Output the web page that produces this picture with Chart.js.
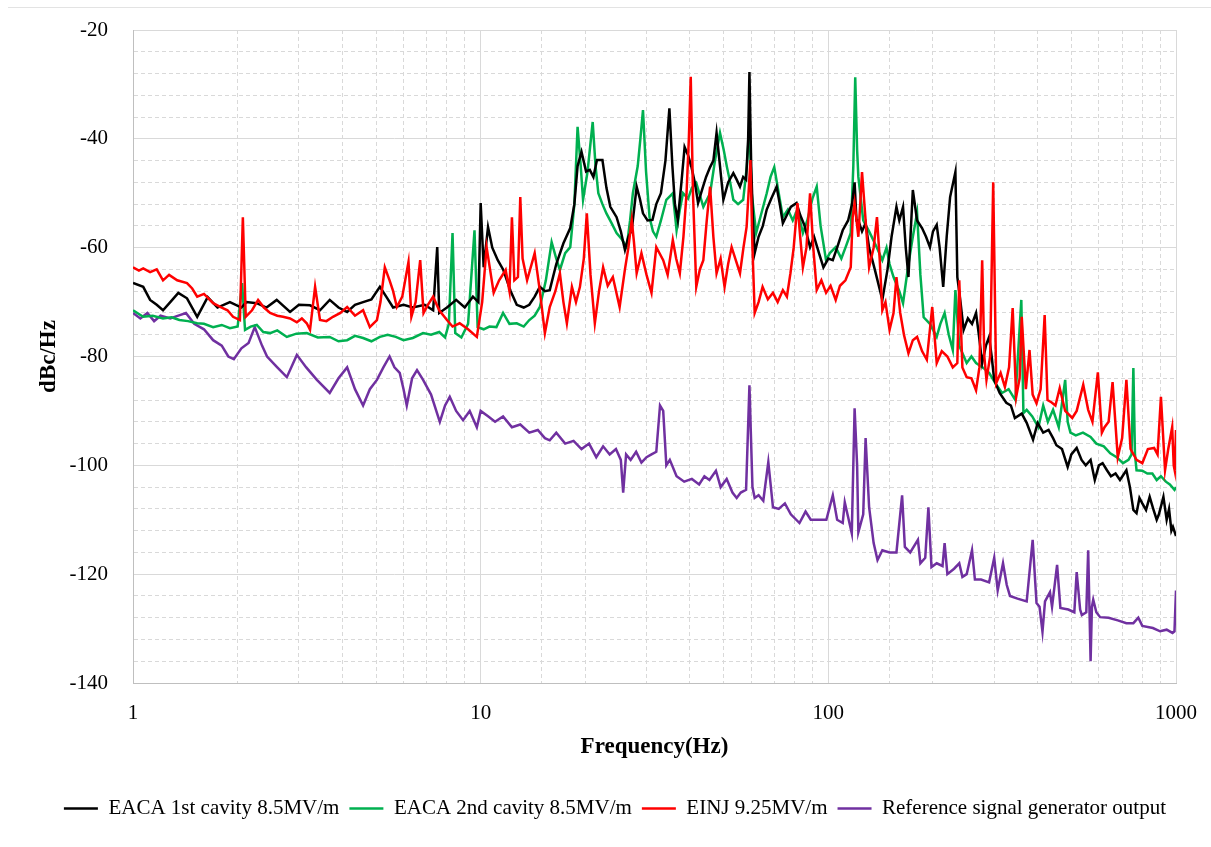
<!DOCTYPE html>
<html>
<head>
<meta charset="utf-8">
<title>Phase noise spectrum</title>
<script src="https://cdn.jsdelivr.net/npm/chart.js@4.4.1/dist/chart.umd.min.js"></script>
<style>
    body { margin: 0; background: #ffffff; }
    #wrap { position: relative; width: 1211px; height: 847px; }
    #topRule { position: absolute; left: 8px; right: 0; top: 7px; height: 1px; background: #e3e3e3; }
</style>
</head>
<body>
<div id="wrap">
    <div id="topRule"></div>
    <canvas id="chartCanvas" width="1211" height="847"></canvas>
</div>
<script>
"use strict";

// axis ticks that carry a label
const xTickLabels = [1, 10, 100, 1000];
const yTickLabels = [-140, -120, -100, -80, -60, -40, -20];

// EACA 1st cavity 8.5MV/m
const eaca1Freq = [1, 1.07, 1.12, 1.17, 1.22, 1.28, 1.35, 1.43, 1.53, 1.64,
    1.75, 1.9, 2.05, 2.12, 2.27, 2.42, 2.59, 2.83, 3.0, 3.23,
    3.45, 3.68, 3.9, 4.13, 4.35, 4.59, 4.85, 5.13, 5.35, 5.6,
    6.0, 6.38, 6.9, 7.3, 7.5, 7.6, 8.0, 8.5, 9.0, 9.5,
    9.85, 10, 10.2, 10.5, 10.8, 11.2, 11.6, 12.2, 12.7, 13.3,
    13.8, 14.3, 14.8, 15.3, 15.8, 16.5, 17.3, 18.1, 18.6, 19,
    19.5, 20.1, 20.6, 21.1, 21.6, 22.4, 23, 23.6, 24.6, 25.3,
    26, 26.6, 27.2, 28.1, 28.7, 29.3, 30.2, 31.2, 32, 33,
    34, 34.9, 35.6, 36.2, 36.9, 37.8, 38.6, 39.5, 40.4, 41.3,
    42.2, 43.5, 44.5, 45.7, 46.7, 47.7, 48.8, 49.9, 51.5, 53.3,
    54.5, 55.7, 56.9, 58, 58.8, 59.3, 60, 60.7, 61.4, 63,
    64.8, 66.5, 68.5, 71, 72.5, 74, 76, 78, 81, 83,
    85.5, 88.6, 91, 94, 96.8, 100, 103, 106, 110, 114,
    117, 119, 120.5, 122, 125, 128, 131, 136, 143, 148,
    152, 157, 160, 164, 167, 170, 175, 180, 186, 191,
    196, 200, 205, 209, 214, 219, 224, 232, 235, 240,
    245, 252, 259, 266, 271, 277, 284, 290, 295, 300,
    311, 325, 335, 344, 360, 372, 388, 400, 415, 430,
    443, 453, 470, 488, 500, 518, 535, 550, 568, 584,
    600, 615, 633, 650, 670, 690, 720, 737, 754, 770,
    785, 800, 820, 840, 860, 880, 893, 920, 940, 955,
    970, 980, 1000];
const eaca1Db = [-66.5, -67.2, -69.6, -70.5, -71.5, -70, -68.3, -69.3, -72.7, -69.1,
    -71, -70, -71, -70, -70.2, -71, -69.6, -71.8, -70.5, -70.6,
    -71.5, -69.6, -71, -71.8, -70.5, -70, -69.5, -67.2, -69, -71,
    -70.5, -71, -70.5, -71.5, -59.9, -72, -71, -69.6, -71, -69,
    -70, -51.8, -63.6, -56.2, -60, -62.3, -64, -68, -70.5, -71,
    -70.5, -69, -67.2, -68, -67.8, -63, -59.2, -56.4, -52, -45,
    -42.4, -46, -45.7, -47, -43.9, -43.9, -49, -52.5, -54.4, -57,
    -60.4, -58, -56.8, -48.8, -51, -53.7, -55, -54.9, -52, -50,
    -44, -34.4, -45, -52, -54.9, -48, -41.5, -43, -45.2, -48,
    -51.8, -49, -47, -45.2, -44, -38.9, -45, -51.2, -48, -46.3,
    -47.5, -48.8, -47, -47.5, -40, -27.7, -45, -55, -61, -58,
    -56, -53, -51, -48.8, -52, -55.5, -54, -52.5, -51.8, -54,
    -56, -59.9, -58, -61, -63.6, -62, -62.3, -60, -56.8, -55,
    -52, -48, -55, -55, -57, -55.5, -60, -64, -69.6, -64,
    -58, -52.5, -55, -52.5, -60, -65.4, -49.4, -55, -56.4, -58,
    -59.9, -57, -55.8, -60, -67.2, -58, -50.7, -46.1, -65.4, -70,
    -75.1, -73, -74, -72, -76, -81.2, -78, -76.4, -80, -84.3,
    -86.7, -88.5, -89, -91.3, -90.5, -92.2, -95.3, -92.2, -94, -93.5,
    -95, -96.3, -97, -100.3, -98, -96.8, -99, -100, -99, -102.7,
    -100, -99.6, -100.9, -102, -101.5, -102.7, -100.9, -104, -108.2, -108.8,
    -106, -107, -108.2, -105.8, -108, -110, -109, -105.8, -110, -108,
    -112, -111.3, -113];

// EACA 2nd cavity 8.5MV/m
const eaca2Freq = [1, 1.07, 1.14, 1.22, 1.29, 1.36, 1.44, 1.53, 1.6, 1.7,
    1.8, 1.9, 2.0, 2.06, 2.1, 2.18, 2.27, 2.37, 2.48, 2.6,
    2.77, 2.95, 3.16, 3.4, 3.68, 3.9, 4.13, 4.35, 4.59, 4.85,
    5.13, 5.4, 5.7, 6.0, 6.38, 6.83, 7.2, 7.6, 7.9, 8.1,
    8.3, 8.45, 8.8, 9.2, 9.6, 9.8, 10.2, 10.6, 11.1, 11.6,
    12.1, 12.7, 13.3, 13.8, 14.3, 14.8, 15.4, 16, 16.5, 16.9,
    17.5, 18.1, 18.6, 19, 19.4, 19.7, 20.3, 21, 21.4, 21.8,
    22.4, 23, 23.8, 24.6, 25.5, 26.3, 26.9, 27.4, 28.3, 28.8,
    29.3, 29.9, 30.6, 31.3, 32, 33, 34.2, 35.7, 36.6, 37.4,
    38.2, 39.5, 40.5, 41.7, 43.7, 45.7, 47.2, 48.8, 50, 51.1,
    52.2, 53.3, 55, 56.9, 58.3, 59.3, 60.2, 62, 64, 66.5,
    68.2, 69.9, 72, 74, 76.5, 79, 81.5, 84.5, 87, 90,
    92.6, 95, 98.5, 101, 105, 109, 112, 116, 118, 119.5,
    121, 122, 126, 131, 138, 143, 147, 150, 154, 160,
    164, 170, 175, 180, 184, 188, 196, 205, 210, 216,
    222, 228, 232, 238, 250, 258, 266, 278, 290, 303,
    316, 330, 345, 359, 364, 372, 386, 402, 415, 428,
    443, 460, 480, 488, 497, 515, 540, 568, 590, 620,
    647, 675, 704, 730, 745, 754, 762, 770, 800, 827,
    855, 880, 905, 935, 960, 990, 1000];
const eaca2Db = [-71.5, -72.7, -72.5, -73, -72.8, -73.3, -73.5, -73.9, -74, -74.6,
    -74.2, -74.8, -74.5, -66.5, -75.1, -74.5, -74.2, -75.5, -75.7, -75.2,
    -76.4, -75.8, -75.7, -76.5, -76.4, -77.2, -77, -76.2, -76.6, -77.2,
    -76.4, -76, -76.4, -77, -76.6, -75.7, -76, -75.5, -76.5, -74,
    -57.3, -75.7, -76.5, -74, -56.8, -74.6, -75, -74.5, -74.6, -72,
    -74, -73.9, -74.5, -73.3, -72.5, -70.9, -66, -59, -62, -64.1,
    -61, -59.9, -52, -37.8, -45, -51.2, -46, -36.9, -45, -50,
    -52, -53.7, -55.5, -57.3, -58.5, -59.9, -55, -50, -45, -40,
    -34.7, -46, -54.4, -57, -58, -55, -51.2, -50, -56.8, -53,
    -50, -51, -49, -48.1, -52.5, -50, -44, -38.9, -42, -45.2,
    -48, -51.2, -52, -51.2, -45, -37.8, -50, -57.3, -54, -50,
    -47, -45.2, -50, -54.4, -53, -55, -53, -57.3, -55, -51,
    -48.8, -56, -62.3, -61, -59.9, -62, -60, -57.3, -45, -28.7,
    -42, -47, -55, -57, -60, -62.3, -60, -63, -65.4, -68,
    -70.2, -63, -58, -53.6, -65, -72.8, -74, -76.4, -74, -72,
    -76, -78.8, -67.8, -78, -81.2, -80, -81.2, -82, -83, -85,
    -86.7, -86, -88, -69.6, -90.4, -89.8, -91, -93, -89, -92,
    -89.8, -93, -84.3, -92, -94, -94.5, -94, -94.8, -96, -96.5,
    -97.8, -98.5, -99.6, -99, -98, -82.1, -98, -100.9, -101, -101.5,
    -101.5, -102.7, -102, -103, -103.5, -104.5, -104];

// EINJ 9.25MV/m
const einjFreq = [1, 1.04, 1.07, 1.12, 1.17, 1.22, 1.27, 1.34, 1.43, 1.48,
    1.53, 1.6, 1.7, 1.8, 1.87, 1.94, 2.03, 2.07, 2.11, 2.2,
    2.29, 2.38, 2.48, 2.6, 2.7, 2.83, 2.96, 3.06, 3.16, 3.23,
    3.34, 3.45, 3.6, 3.76, 3.95, 4.13, 4.35, 4.59, 4.8, 5.03,
    5.15, 5.3, 5.47, 5.6, 5.74, 5.95, 6.2, 6.32, 6.5, 6.7,
    6.85, 7.05, 7.3, 7.6, 8.0, 8.3, 8.7, 9.2, 9.75, 10.1,
    10.4, 10.9, 11.3, 11.8, 12.1, 12.3, 12.5, 12.8, 13, 13.2,
    13.6, 14.3, 14.8, 15.3, 15.8, 16.4, 16.9, 17.3, 17.7, 18.3,
    18.8, 19.3, 19.8, 20.2, 20.7, 21.3, 21.9, 22.5, 23.2, 24,
    25.1, 26, 26.6, 27.2, 27.6, 28.1, 29, 30, 31, 32,
    33.5, 34.5, 35.7, 36.5, 37.4, 38.3, 39.1, 39.7, 40.2, 40.8,
    41.7, 42.7, 43.7, 44.7, 45.7, 46.7, 47.7, 49, 50.3, 51.5,
    52.7, 54, 55.7, 57, 58.2, 59.7, 60.5, 61.4, 63, 64.7,
    67, 69.3, 71.5, 74, 76, 77.8, 79.5, 81.5, 83, 84.5,
    86.5, 88.6, 90.5, 92.6, 95.5, 98.5, 101.5, 105, 108, 112,
    116, 117.5, 119, 122, 125, 128, 131, 135, 138, 140.5,
    143, 146, 150, 154, 157, 161, 165, 170, 175, 180,
    186, 192, 199, 205, 212, 220, 228, 235, 238, 243,
    250, 258, 266, 272, 277, 281, 285, 292, 298, 304,
    313, 322, 331, 339, 347, 355, 360, 370, 379, 387,
    397, 408, 419, 427, 438, 450, 463, 480, 503, 518,
    541, 559, 575, 596, 612, 623, 640, 657, 680, 700,
    720, 740, 770, 800, 830, 865, 885, 905, 930, 950,
    975, 985, 992, 1000];
const einjDb = [-63.6, -64.2, -63.8, -64.5, -64, -66, -65, -66, -66.5, -67.5,
    -69, -68.5, -70.2, -71, -71.5, -72.7, -73.3, -54.4, -72.7, -71.5,
    -69.6, -71, -72, -72.5, -72.7, -73, -73.7, -73, -73.9, -75.1,
    -67.2, -73.3, -73.5, -72.7, -72, -70.9, -72.5, -71.5, -74.6, -73.3,
    -70, -63.6, -66, -68, -70.9, -69, -62.6, -72.7, -70, -62.3,
    -72, -70.5, -69, -71.5, -73.3, -74.5, -73.9, -75, -76.4, -70,
    -59.9, -68.3, -66, -64.1, -68, -54.4, -66, -65.4, -50.7, -62,
    -66, -61, -68, -75.7, -70.9, -68, -64.7, -70, -73.9, -67.2,
    -70, -67.2, -62, -53.7, -65, -73.9, -68, -63.6, -67, -65.4,
    -70.9, -64, -60, -54.9, -59, -64.7, -61, -65, -68.3, -59.9,
    -62.3, -65, -58.6, -62, -64.7, -58, -50, -40, -28.6, -50,
    -67.2, -64, -62.3, -55, -48.8, -58, -64.7, -62, -67.2, -63,
    -59.9, -62, -64.7, -60, -56.2, -43.9, -60, -72, -70, -67.2,
    -69.5, -68.3, -70, -67.8, -69, -64.7, -60, -51.8, -58, -63.6,
    -60, -50, -60, -67.8, -66, -68.3, -67, -69.6, -67, -66,
    -63.6, -54.4, -51.8, -58, -46.1, -55, -63.6, -60, -54.4, -62,
    -71.5, -70, -75.1, -72, -65.4, -72, -76, -79.4, -77, -76.4,
    -79, -80.6, -70.9, -81.2, -79, -80, -82, -81.2, -66, -82,
    -83.8, -84, -86.2, -82, -62.3, -80, -84.3, -80, -48, -84.9,
    -83, -85.6, -82, -71.1, -87.4, -84, -72.7, -86, -78.8, -87,
    -88.6, -86, -72.4, -88, -88.4, -89, -85.8, -90, -91.3, -90,
    -85.2, -89.8, -92, -82.9, -94, -93, -92, -84.7, -98.5, -95,
    -84.3, -97, -99, -99.6, -97, -96.8, -98, -87.4, -100.9, -97,
    -93, -100, -101, -93.5];

// Reference signal generator output
const refFreq = [1, 1.05, 1.1, 1.15, 1.2, 1.28, 1.35, 1.42, 1.5, 1.6,
    1.7, 1.8, 1.88, 1.95, 2.05, 2.15, 2.24, 2.35, 2.43, 2.6,
    2.77, 2.96, 3.15, 3.38, 3.68, 3.9, 4.13, 4.35, 4.59, 4.8,
    5.03, 5.25, 5.47, 5.65, 5.85, 6.0, 6.13, 6.35, 6.56, 6.83,
    7.2, 7.63, 7.9, 8.15, 8.5, 8.9, 9.3, 9.75, 10, 10.5,
    11, 11.6, 12.3, 13, 13.8, 14.6, 15.3, 15.8, 16.5, 17.5,
    18.5, 19.5, 20.5, 21.5, 22.5, 23.5, 24.5, 25.3, 25.7, 26.2,
    27, 28, 29, 30, 31, 32, 32.8, 33.5, 34.2, 35,
    36.6, 38.5, 40.5, 42.5, 44, 45.5, 47.5, 49, 51, 53,
    54.5, 56, 58, 59.3, 60.5, 61.4, 63, 65, 67.2, 69.3,
    72, 75, 78, 82.6, 86, 89, 93, 98.7, 103, 106,
    110, 111.5, 116.8, 119, 121, 122, 126, 128, 131, 135,
    138.5, 143, 150, 157, 163, 166, 172, 181, 184, 190,
    194, 198, 205, 213, 216, 220, 230, 238, 243, 250,
    259, 264, 275, 290, 300, 307, 318, 326, 333, 350,
    372, 387, 397, 405, 413, 420, 434, 440, 455, 465,
    490, 510, 518, 530, 536, 552, 559, 568, 573, 578,
    590, 605, 640, 680, 720, 754, 779, 800, 858, 900,
    940, 977, 990, 1000];
const refDb = [-72, -73, -72, -73.5, -72.5, -73, -72.5, -72, -74, -75,
    -77, -78, -80, -80.5, -78.5, -77.5, -74.6, -78, -80, -82,
    -83.8, -79.7, -82, -84.3, -86.7, -84, -82, -86, -89, -86,
    -84.3, -82, -80, -82, -83, -86, -89, -84, -82.5, -84.3,
    -87, -92, -89, -87.4, -90, -91.7, -90, -93, -90, -91,
    -92, -91, -93, -92.5, -94, -93.5, -95, -95.4, -94, -96,
    -95.5, -97, -96, -98.5, -96.5, -98, -97, -99, -105, -98,
    -99, -97.5, -99.5, -98.5, -98, -97.5, -89, -90, -100, -99,
    -102, -103, -102.5, -103.5, -102, -102.7, -101, -104, -102.5, -105,
    -106, -105, -104.5, -85.3, -104, -106, -105.5, -106.5, -99.4, -107.7,
    -108, -107, -109, -110.6, -108.5, -110, -110, -110, -105.5, -110,
    -110.6, -106.8, -112.5, -89.5, -100, -112.3, -109, -95, -107.7, -114.3,
    -117.4, -115.6, -116, -116, -105.5, -115, -116, -113.7, -118, -117,
    -107.7, -118.7, -118, -118.5, -114.3, -120, -119, -118, -120.5, -120,
    -115.6, -121, -121, -121.5, -117, -123, -118, -122, -124, -124.5,
    -125, -113.7, -125.3, -126, -130.6, -125, -123.3, -126, -118.3, -126.2,
    -126.5, -127, -119.6, -126.5, -127.5, -127, -115.6, -136, -126, -124.7,
    -127, -127.9, -128, -128.5, -129, -129, -128, -129.5, -129.9, -130.5,
    -130.2, -130.8, -130.5, -123];

const fontFamily = "'Liberation Serif', 'Times New Roman', serif";
const gridColor = '#d9d9d9';

function toPoints(freqs, values) {
    return freqs.map(function (f, i) {
        return { x: f, y: values[i] };
    });
}

function lineSet(label, freqs, values, color, order) {
    return {
        label: label,
        data: toPoints(freqs, values),
        borderColor: color,
        backgroundColor: color,
        borderWidth: 2.5,
        pointRadius: 0,
        tension: 0,
        order: order
    };
}

const ctx = document.getElementById('chartCanvas');

const data = {
    datasets: [
        lineSet('EACA 1st cavity 8.5MV/m', eaca1Freq, eaca1Db, '#000000', 2),
        lineSet('EACA 2nd cavity 8.5MV/m', eaca2Freq, eaca2Db, '#00b050', 3),
        lineSet('EINJ 9.25MV/m', einjFreq, einjDb, '#ff0000', 1),
        lineSet('Reference signal generator output', refFreq, refDb, '#7030a0', 4)
    ]
};

const config = {
    type: 'line',
    data: data,
    options: {
        responsive: false,
        animation: false,
        devicePixelRatio: 1,
        layout: {
            padding: { left: 0, right: 35, top: 30, bottom: 18 }
        },
        scales: {
            x: {
                type: 'logarithmic',
                position: 'bottom',
                min: 1,
                max: 1000,
                afterFit: function (scale) {
                    scale.height = 105;
                    // the plot box is set by layout.padding alone
                    scale.paddingLeft = 0;
                    scale.paddingRight = 0;
                },
                ticks: {
                    autoSkip: false,
                    maxRotation: 0,
                    padding: 18,
                    color: '#000000',
                    font: { family: fontFamily, size: 21 },
                    callback: function (value) {
                        return xTickLabels.includes(value) ? String(value) : '';
                    }
                },
                grid: { color: gridColor, lineWidth: 1, drawTicks: false },
                border: {
                    color: '#bfbfbf',
                    dash: function (c) {
                        if (!c.tick) return [];
                        return xTickLabels.includes(c.tick.value) ? [] : [4, 3];
                    }
                },
                title: {
                    display: true,
                    text: 'Frequency(Hz)',
                    color: '#000000',
                    font: { family: fontFamily, size: 23, weight: 'bold' },
                    padding: { top: 0, bottom: 27 }
                }
            },
            y: {
                min: -140,
                max: -20,
                afterFit: function (scale) {
                    scale.width = 133;
                    scale.paddingTop = 0;
                    scale.paddingBottom = 0;
                },
                ticks: {
                    stepSize: 4,
                    autoSkip: false,
                    padding: 25,
                    color: '#000000',
                    font: { family: fontFamily, size: 21 },
                    callback: function (value) {
                        return yTickLabels.includes(value) ? String(value) : '';
                    }
                },
                grid: { color: gridColor, lineWidth: 1, drawTicks: false },
                border: {
                    color: '#bfbfbf',
                    dash: function (c) {
                        if (!c.tick) return [];
                        return yTickLabels.includes(c.tick.value) ? [] : [4, 3];
                    }
                },
                title: {
                    display: true,
                    text: 'dBc/Hz',
                    color: '#000000',
                    font: { family: fontFamily, size: 23, weight: 'bold' },
                    padding: { top: 35, bottom: 0 }
                }
            }
        },
        plugins: {
            tooltip: { enabled: false },
            legend: {
                position: 'bottom',
                align: 'end',
                labels: {
                    usePointStyle: true,
                    pointStyle: 'line',
                    pointStyleWidth: 34,
                    padding: 10,
                    color: '#000000',
                    font: { family: fontFamily, size: 21 },
                    sort: function (a, b) { return a.datasetIndex - b.datasetIndex; }
                }
            }
        }
    }
};

new Chart(ctx, config);
</script>
</body>
</html>
